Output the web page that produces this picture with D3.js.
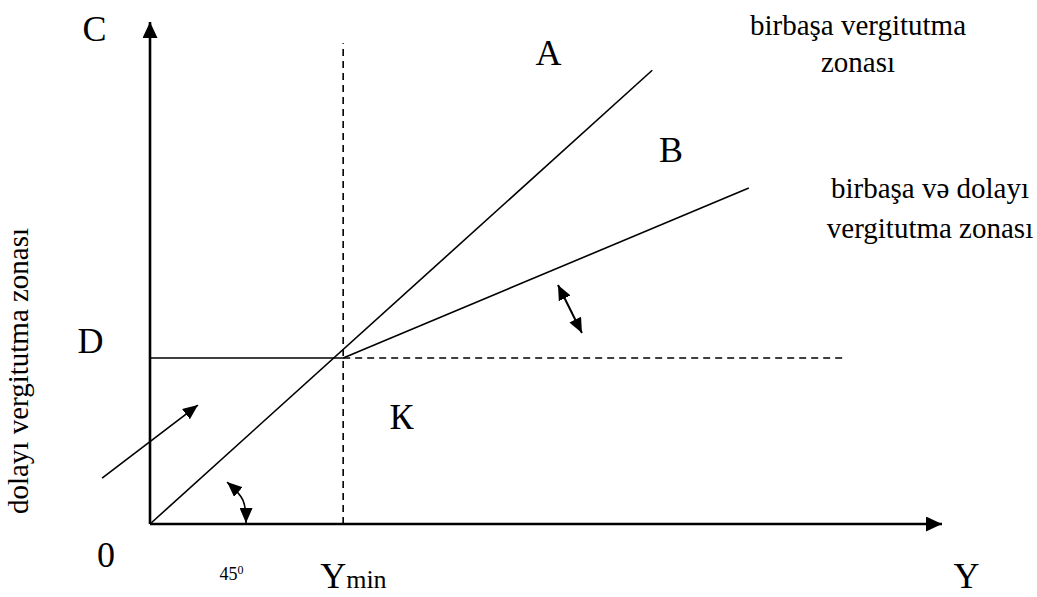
<!DOCTYPE html>
<html>
<head>
<meta charset="utf-8">
<script src="https://cdn.jsdelivr.net/npm/d3@7"></script>
<style>
  body { margin: 0; background: #fff; }
  svg text { font-family: "Liberation Serif", "Times New Roman", serif; fill: #000; }
</style>
</head>
<body>
<div id="chart"></div>
<script>
// --- data (in diagram units: income Y along x, consumption C along y) ---
const yMin = 10;            // Y_min
const dLevel = 8.6;         // D level (K point height)
const lineA = [[0, 0], [26, 23.5]];
const lineB = [[yMin, dLevel], [31, 17.4]];
const dSolid = [[0, dLevel], [yMin, dLevel]];
const dDashed = [[yMin, dLevel], [36, dLevel]];
const yMinDashed = [[yMin, 0], [yMin, 24.9]];
const shiftArrow = [[-2.48, 2.38], [2.48, 6.16]];
const angleArrow = [[3.99, 2.17], [4.81, 1.24], [4.97, 0.05]];
const tiltArrow = [[21.12, 12.38], [22.36, 9.89]];
const axisX = [[0, 0], [41, 0]];
const axisY = [[0, 0], [0, 26]];
const bigLabels = [
  { t: "C", x: -3.5, y: 25 },
  { t: "A", x: 19.95, y: 23.77 },
  { t: "B", x: 26.35, y: 18.75 },
  { t: "D", x: -3.75, y: 8.85 },
  { t: "К", x: 12.4, y: 4.9 },
  { t: "0", x: -2.75, y: -2.25 },
  { t: "Y", x: 41.6, y: -3.3 }
];
const zoneTop = ["birbaşa vergitutma", "zonası"];
const zoneMid = ["birbaşa və dolayı", "vergitutma zonası"];
const zoneSide = "dolayı vergitutma zonası";

const W = 1037, H = 597;
const x = d3.scaleLinear().domain([0, 41]).range([150, 942]);
const y = d3.scaleLinear().domain([0, 26]).range([524, 22]);

const svg = d3.select("#chart").append("svg")
  .attr("width", W).attr("height", H);

const defs = svg.append("defs");
function marker(id, len, wid) {
  defs.append("marker")
    .attr("id", id)
    .attr("markerUnits", "userSpaceOnUse")
    .attr("viewBox", `0 0 ${len} ${wid}`)
    .attr("refX", len).attr("refY", wid / 2)
    .attr("markerWidth", len).attr("markerHeight", wid)
    .attr("orient", "auto-start-reverse")
    .append("path")
    .attr("d", `M0,0L${len},${wid / 2}L0,${wid}Z`)
    .attr("fill", "#000");
}
marker("axisHead", 16, 15);
marker("head", 15, 13);

const line = d3.line().x(d => x(d[0])).y(d => y(d[1]));
const curve = d3.line().x(d => x(d[0])).y(d => y(d[1])).curve(d3.curveNatural);

// axes
[axisX, axisY].forEach(seg => {
  svg.append("path").attr("d", line(seg))
    .attr("stroke", "#000").attr("stroke-width", 2.6).attr("fill", "none")
    .attr("marker-end", "url(#axisHead)");
});

// dashed guides
[yMinDashed, dDashed].forEach(seg => {
  svg.append("path").attr("d", line(seg))
    .attr("stroke", "#000").attr("stroke-width", 1.6).attr("fill", "none")
    .attr("stroke-dasharray", "7,5");
});

// solid lines
[lineA, lineB, dSolid].forEach(seg => {
  svg.append("path").attr("d", line(seg))
    .attr("stroke", "#000").attr("stroke-width", 1.6).attr("fill", "none");
});

// arrows
svg.append("path").attr("d", line(shiftArrow))
  .attr("stroke", "#000").attr("stroke-width", 1.6).attr("fill", "none")
  .attr("marker-end", "url(#head)");
svg.append("path").attr("d", curve(angleArrow))
  .attr("stroke", "#000").attr("stroke-width", 1.6).attr("fill", "none")
  .attr("marker-start", "url(#head)").attr("marker-end", "url(#head)");
svg.append("path").attr("d", line(tiltArrow))
  .attr("stroke", "#000").attr("stroke-width", 2).attr("fill", "none")
  .attr("marker-start", "url(#head)").attr("marker-end", "url(#head)");

// big letters
svg.selectAll(".big").data(bigLabels).join("text")
  .attr("class", "big")
  .attr("x", d => x(d.x)).attr("y", d => y(d.y))
  .attr("font-size", 36)
  .text(d => d.t);

// 45° and Y_min labels
const deg = svg.append("text").attr("x", x(3.6)).attr("y", y(-2.9)).attr("font-size", 18);
deg.append("tspan").text("45");
deg.append("tspan").attr("font-size", 12).attr("dy", -6).text("0");

const ym = svg.append("text").attr("x", x(yMin) - 23).attr("y", y(-3.3)).attr("font-size", 36);
ym.append("tspan").text("Y");
ym.append("tspan").attr("font-size", 26).text("min");

// zone labels
svg.selectAll(".ztop").data(zoneTop).join("text")
  .attr("class", "ztop")
  .attr("x", 858).attr("y", (d, i) => 35 + i * 37)
  .attr("text-anchor", "middle").attr("font-size", 29)
  .text(d => d);
svg.selectAll(".zmid").data(zoneMid).join("text")
  .attr("class", "zmid")
  .attr("x", 930).attr("y", (d, i) => 198 + i * 40)
  .attr("text-anchor", "middle").attr("font-size", 29)
  .text(d => d);
svg.append("text")
  .attr("transform", "translate(28,371) rotate(-90)")
  .attr("text-anchor", "middle").attr("font-size", 29)
  .text(zoneSide);
</script>
</body>
</html>
